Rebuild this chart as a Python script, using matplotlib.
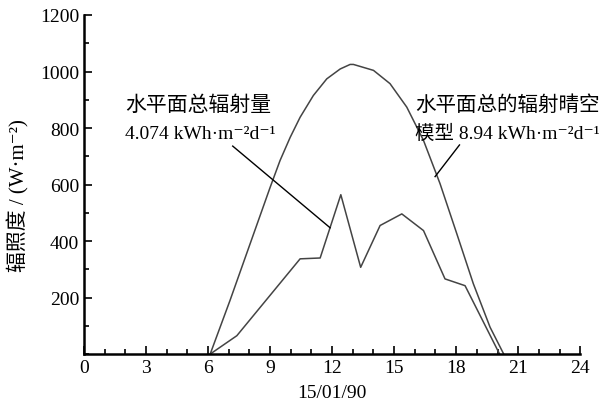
import matplotlib
matplotlib.use("Agg")
import matplotlib.pyplot as plt
from matplotlib.ticker import MultipleLocator

plt.rcParams['font.family'] = ['Liberation Serif', 'DejaVu Serif', 'Noto Sans CJK SC']

# clear-sky model (hour, W/m2)
clear_hours = [6.1, 7.06, 8.03, 9.0, 9.48, 9.97, 10.45, 11.09, 11.74, 12.39,
               12.87, 13.03, 14.0, 14.8, 15.61, 16.42, 17.22, 18.03, 18.83,
               19.64, 20.3]
clear_vals = [0, 190, 390, 590, 685, 767, 838, 915, 974, 1009,
              1025, 1025, 1004, 957, 874, 756, 603, 426, 249,
              95, 0]

# measured global horizontal irradiance
meas_hours = [6.1, 7.39, 10.45, 11.42, 12.42, 13.38, 14.32, 15.37, 16.42,
              17.46, 18.43, 20.1]
meas_vals = [0, 65, 337, 340, 564, 307, 455, 496, 437, 266, 242, 0]

xticks = [0, 3, 6, 9, 12, 15, 18, 21, 24]
yticks = [200, 400, 600, 800, 1000, 1200]

fig = plt.figure(figsize=(6.05, 4.1), dpi=100)
ax = fig.add_axes([0.139, 0.134, 0.82, 0.827])

ax.plot(clear_hours, clear_vals, color='#444444', lw=1.1)
ax.plot(meas_hours, meas_vals, color='#444444', lw=1.1)

ax.set_xlim(0, 24)
ax.set_ylim(0, 1200)
ax.set_xticks(xticks)
ax.set_yticks(yticks)
ax.xaxis.set_minor_locator(MultipleLocator(1))
ax.yaxis.set_minor_locator(MultipleLocator(100))
ax.tick_params(which='both', direction='in', labelsize=14, width=1.2)
ax.tick_params(which='major', length=6)
ax.tick_params(which='minor', length=3.5)
for s in ['top', 'right']:
    ax.spines[s].set_visible(False)
for s in ['left', 'bottom']:
    ax.spines[s].set_linewidth(1.8)

ax.set_xlabel('15/01/90', fontsize=14, labelpad=6)
ax.set_ylabel('辐照度 / (W·m⁻²)', fontsize=15)
ax.yaxis.set_label_coords(-0.11, 0.47)

# annotations
ax.text(1.97, 880, '水平面总辐射量', fontsize=15, ha='left', va='center')
ax.text(1.97, 782, '4.074 kWh·m⁻²d⁻¹', fontsize=14, ha='left', va='center')
ax.plot([7.19, 11.9], [736, 447], color='black', lw=1.0)

ax.text(16.0, 880, '水平面总的辐射晴空', fontsize=14.8, ha='left', va='center', clip_on=False)
ax.text(16.0, 782, '模型 8.94 kWh·m⁻²d⁻¹', fontsize=14, ha='left', va='center', clip_on=False)
ax.plot([18.16, 16.98], [740, 628], color='black', lw=1.0)

fig.savefig('out.png', dpi=100)
